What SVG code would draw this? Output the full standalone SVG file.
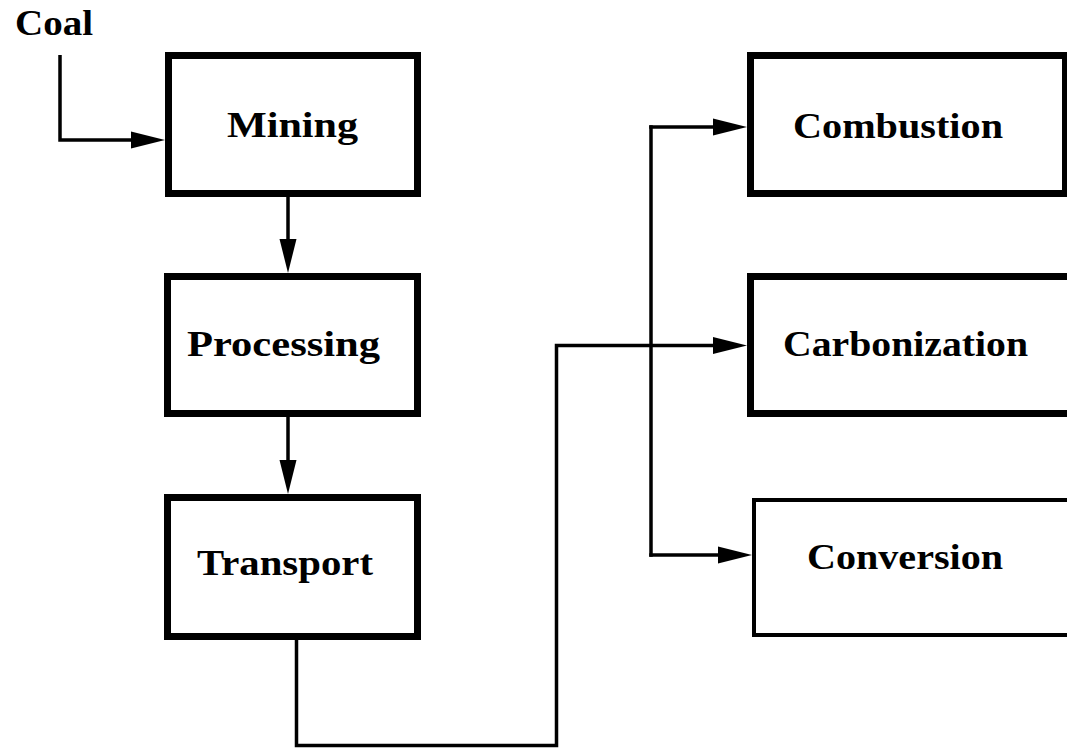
<svg xmlns="http://www.w3.org/2000/svg" width="1067" height="750" viewBox="0 0 1067 750">
  <style>
    .box { fill: #ffffff; stroke: #000000; stroke-width: 7; }
    .box-thin { fill: #ffffff; stroke: #000000; stroke-width: 4; }
    .label { font-family: "Liberation Serif", "DejaVu Serif", serif; font-weight: bold; font-size: 35px; fill: #000000; }
    .wire { fill: none; stroke: #000000; stroke-width: 3.5; stroke-linejoin: miter; }
  </style>
  <defs>
    <marker id="arrow" markerUnits="userSpaceOnUse" markerWidth="34" markerHeight="18" refX="14" refY="9" orient="auto" overflow="visible">
      <path d="M0,0.5 L34,9 L0,17.5 Z" fill="#000000"/>
    </marker>
  </defs>

  <rect width="1067" height="750" fill="#ffffff"/>

  <!-- input label -->
  <g id="coal">
    <text class="label" x="15" y="35" textLength="78" lengthAdjust="spacingAndGlyphs">Coal</text>
  </g>

  <!-- processing chain -->
  <g id="mining">
    <rect class="box" x="168.5" y="55.5" width="249" height="138"/>
    <text class="label" x="227" y="137" textLength="131" lengthAdjust="spacingAndGlyphs">Mining</text>
  </g>
  <g id="processing">
    <rect class="box" x="167.5" y="276.5" width="250" height="137"/>
    <text class="label" x="187" y="356" textLength="193" lengthAdjust="spacingAndGlyphs">Processing</text>
  </g>
  <g id="transport">
    <rect class="box" x="167.5" y="497.5" width="250" height="139"/>
    <text class="label" x="197" y="575" textLength="176" lengthAdjust="spacingAndGlyphs">Transport</text>
  </g>

  <!-- end uses -->
  <g id="combustion">
    <rect class="box" x="750.5" y="55.5" width="315" height="138"/>
    <text class="label" x="793" y="138" textLength="210" lengthAdjust="spacingAndGlyphs">Combustion</text>
  </g>
  <g id="carbonization">
    <rect class="box" x="750.5" y="276.5" width="340" height="137"/>
    <text class="label" x="783" y="356" textLength="245" lengthAdjust="spacingAndGlyphs">Carbonization</text>
  </g>
  <g id="conversion">
    <rect class="box-thin" x="754" y="500" width="340" height="135"/>
    <text class="label" x="807" y="569" textLength="196" lengthAdjust="spacingAndGlyphs">Conversion</text>
  </g>

  <!-- connectors -->
  <g id="connectors">
    <path class="wire" d="M60,55 V140 H145" marker-end="url(#arrow)"/>
    <path class="wire" d="M288,197 V253" marker-end="url(#arrow)"/>
    <path class="wire" d="M288,417 V474" marker-end="url(#arrow)"/>
    <path class="wire" d="M296.5,640 V745.5 H556.5 V345.5 H727" marker-end="url(#arrow)"/>
    <path class="wire" d="M651,125.25 V556.75"/>
    <path class="wire" d="M649.25,127 H727" marker-end="url(#arrow)"/>
    <path class="wire" d="M649.25,555 H732" marker-end="url(#arrow)"/>
  </g>
</svg>
